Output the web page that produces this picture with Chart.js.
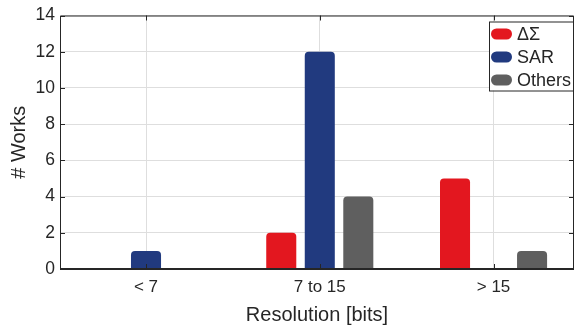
<!DOCTYPE html>
<html><head><meta charset="utf-8">
<script src="https://cdn.jsdelivr.net/npm/chart.js@4/dist/chart.umd.min.js"></script>
<style>html,body{margin:0;padding:0;background:#fff;}#wrap{width:575px;height:327px;}</style>
</head><body><div id="wrap"><canvas id="c" width="575" height="327"></canvas></div>
<script>
const categories = ['< 7', '7 to 15', '> 15'];
const seriesNames = ['ΔΣ', 'SAR', 'Others'];
const deltaSigma = [0, 2, 5];
const sar = [1, 12, 0];
const others = [0, 4, 1];
const yTicks = [0, 2, 4, 6, 8, 10, 12, 14];
const seriesColors = ['#e3171f', '#213a7f', '#5f5f5f'];

const FONT = "'Liberation Sans', Arial, sans-serif";
const TEXT = '#262626';
const allSeries = [deltaSigma, sar, others];

const datasets = allSeries.map((vals, i) => ({
  label: seriesNames[i],
  data: vals.map((v, k) => ({ x: k + 1, y: v })),
  backgroundColor: seriesColors[i],
  borderWidth: 0,
  borderRadius: 4,
  categoryPercentage: 0.665,
  barPercentage: 0.78
}));

const framePlugin = {
  id: 'frame',
  afterDatasetsDraw(chart) {
    const { ctx, chartArea: a, scales } = chart;
    ctx.save();
    ctx.strokeStyle = TEXT;
    ctx.lineWidth = 1;
    ctx.beginPath();
    ctx.moveTo(a.left + 0.5, a.bottom); ctx.lineTo(a.left + 0.5, a.top + 0.5);
    ctx.lineTo(a.right - 0.5, a.top + 0.5); ctx.lineTo(a.right - 0.5, a.bottom);
    ctx.stroke();
    ctx.beginPath();
    yTicks.forEach(v => {
      const y = Math.round(scales.y.getPixelForValue(v)) + 0.5;
      ctx.moveTo(a.left, y); ctx.lineTo(a.left + 5, y);
      ctx.moveTo(a.right, y); ctx.lineTo(a.right - 5, y);
    });
    categories.forEach((c, k) => {
      const x = Math.round(scales.x.getPixelForValue(k + 1)) + 0.5;
      ctx.moveTo(x, a.bottom); ctx.lineTo(x, a.bottom - 5);
      ctx.moveTo(x, a.top); ctx.lineTo(x, a.top + 5);
    });
    ctx.stroke();
    ctx.lineWidth = 2;
    ctx.beginPath();
    ctx.moveTo(a.left, a.bottom); ctx.lineTo(a.right, a.bottom);
    ctx.stroke();
    const x0 = a.right - 85, y0 = a.top + 6, w = 84, h = 69;
    ctx.fillStyle = '#fff';
    ctx.fillRect(x0, y0, w, h);
    ctx.lineWidth = 1;
    ctx.strokeStyle = TEXT;
    ctx.strokeRect(x0 + 0.5, y0 + 0.5, w, h);
    ctx.font = '18px ' + FONT;
    ctx.textBaseline = 'middle';
    ctx.textAlign = 'left';
    chart.data.datasets.forEach((ds, i) => {
      const cy = y0 + 12.5 + i * 23;
      ctx.fillStyle = ds.backgroundColor;
      ctx.beginPath();
      ctx.roundRect(x0 + 2, cy - 5.5, 21, 11, 5.5);
      ctx.fill();
      ctx.fillStyle = TEXT;
      ctx.fillText(ds.label, x0 + 28, cy + 1);
    });
    ctx.restore();
  }
};

new Chart(document.getElementById('c'), {
  type: 'bar',
  data: { datasets },
  plugins: [framePlugin],
  options: {
    responsive: false,
    animation: false,
    devicePixelRatio: 1,
    layout: { padding: { top: 14, right: 1, left: 0, bottom: 0 } },
    plugins: { legend: { display: false }, tooltip: { enabled: false } },
    scales: {
      x: {
        type: 'linear',
        offset: false,
        min: 0.505,
        max: 3.463,
        afterBuildTicks: s => { s.ticks = categories.map((c, k) => ({ value: k + 1 })); },
        afterFit: s => { s.height = 58; },
        ticks: {
          callback: v => categories[v - 1],
          font: { family: FONT, size: 17 },
          color: TEXT,
          padding: 8,
          maxRotation: 0
        },
        grid: { color: '#dedede', drawTicks: false, lineWidth: 1, offset: false },
        border: { display: false },
        title: { display: true, text: 'Resolution [bits]', font: { family: FONT, size: 20 }, color: TEXT, padding: { top: 3, bottom: 0 } }
      },
      y: {
        min: 0,
        max: 14,
        afterBuildTicks: s => { s.ticks = yTicks.map(v => ({ value: v })); },
        afterFit: s => { s.width = 60; },
        ticks: { font: { family: FONT, size: 17.5 }, color: TEXT, padding: 5 },
        grid: { color: '#dedede', drawTicks: false, lineWidth: 1 },
        border: { display: false },
        title: { display: true, text: '# Works', font: { family: FONT, size: 20 }, color: TEXT, padding: { top: 7, bottom: 0 } }
      }
    }
  }
});
</script>
</body></html>
